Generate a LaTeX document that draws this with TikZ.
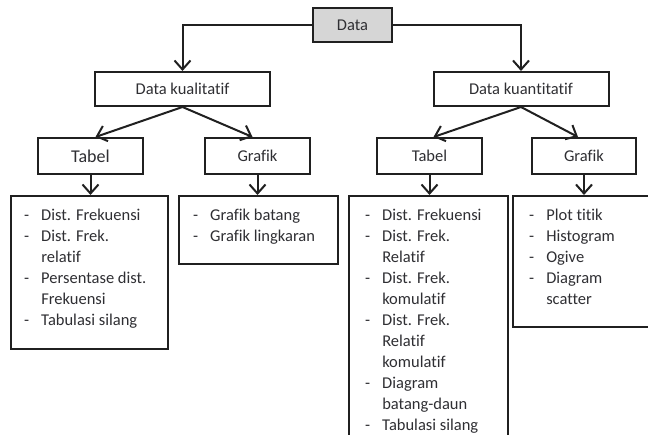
\documentclass[tikz,border=0pt]{standalone}
\usepackage{fontspec}
\setmainfont{Carlito}[Ligatures={NoCommon,NoContextual}]
\usetikzlibrary{arrows.meta,calc}
\definecolor{txt}{HTML}{2F2F33}
\definecolor{edge}{HTML}{202020}
\definecolor{headfill}{HTML}{D6D6D6}
\begin{document}
\begin{tikzpicture}[x=1pt,y=-1pt,
  box/.style={draw=edge,line width=2pt,inner sep=0pt,text=txt,
    font={\fontsize{16.5}{21}\selectfont}},
  listtext/.style={anchor=north west,inner sep=0pt,text=txt,
    font={\fontsize{16.5}{21}\selectfont}},
  arr/.style={draw=edge,line width=2pt,
    -{Straight Barb[length=9pt,width=16pt,line width=2pt]}},
  ln/.style={draw=edge,line width=2pt}]
\useasboundingbox (0,0) rectangle (648,435);
\clip (0,0) rectangle (648,435);
\fill[white] (0,0) rectangle (648,435);
% header boxes
\node[box,fill=headfill,minimum width=79pt,minimum height=34pt] (data) at (352.5,25) {Data};
\node[box,minimum width=175pt,minimum height=34pt] (kual) at (182.5,89) {Data kualitatif};
\node[box,minimum width=175pt,minimum height=34pt] (kuan) at (521,89) {Data kuantitatif};
\node[box,minimum width=105pt,minimum height=36pt,font={\fontsize{18}{22}\selectfont}] (tab1) at (90.5,156) {Tabel};
\node[box,minimum width=105pt,minimum height=36pt] (graf1) at (257.5,156) {Grafik};
\node[box,minimum width=105pt,minimum height=36pt] (tab2) at (429.5,156) {Tabel};
\node[box,minimum width=104pt,minimum height=36pt] (graf2) at (584,156) {Grafik};
% list boxes
\node[box,anchor=north west,minimum width=157pt,minimum height=153pt] (list1) at (10,195) {};
\node[box,anchor=north west,minimum width=159pt,minimum height=68pt] (list2) at (178,195) {};
\node[box,anchor=north west,minimum width=159pt,minimum height=260pt] (list3) at (348,195) {};
\node[box,anchor=north west,minimum width=150pt,minimum height=131pt] (list4) at (512,195) {};
% list texts
\node[listtext] (t1) at ([xshift=14pt,yshift=-11pt]list1.north west) {%
\begin{tabular}{@{}l@{\hspace{12pt}}l@{}}
- & Dist. Frekuensi\\
- & Dist. Frek.\\
  & relatif\\
- & Persentase dist.\\
  & Frekuensi\\
- & Tabulasi silang
\end{tabular}};
\node[listtext] (t2) at ([xshift=15pt,yshift=-11pt]list2.north west) {%
\begin{tabular}{@{}l@{\hspace{12pt}}l@{}}
- & Grafik batang\\
- & Grafik lingkaran
\end{tabular}};
\node[listtext] (t3) at ([xshift=17pt,yshift=-11pt]list3.north west) {%
\begin{tabular}{@{}l@{\hspace{12pt}}l@{}}
- & Dist. Frekuensi\\
- & Dist. Frek.\\
  & Relatif\\
- & Dist. Frek.\\
  & komulatif\\
- & Dist. Frek.\\
  & Relatif\\
  & komulatif\\
- & Diagram\\
  & batang-daun\\
- & Tabulasi silang
\end{tabular}};
\node[listtext] (t4) at ([xshift=17pt,yshift=-11pt]list4.north west) {%
\begin{tabular}{@{}l@{\hspace{12pt}}l@{}}
- & Plot titik\\
- & Histogram\\
- & Ogive\\
- & Diagram\\
  & scatter
\end{tabular}};
% connectors
\draw[arr] (data.west) -| (kual.north);
\draw[arr] (data.east) -| (kuan.north);
\draw[arr] (kual.south) -- ([xshift=5pt]tab1.north);
\draw[arr] (kual.south) -- ([xshift=-5pt]graf1.north);
\draw[arr] (kuan.south) -- ([xshift=4pt]tab2.north);
\draw[arr] (kuan.south) -- ([xshift=-6pt]graf2.north);
\draw[arr] (tab1.south) -- (tab1.south |- list1.north);
\draw[arr] (graf1.south) -- (graf1.south |- list2.north);
\draw[arr] (tab2.south) -- (tab2.south |- list3.north);
\draw[arr] (graf2.south) -- (graf2.south |- list4.north);
\end{tikzpicture}
\end{document}
